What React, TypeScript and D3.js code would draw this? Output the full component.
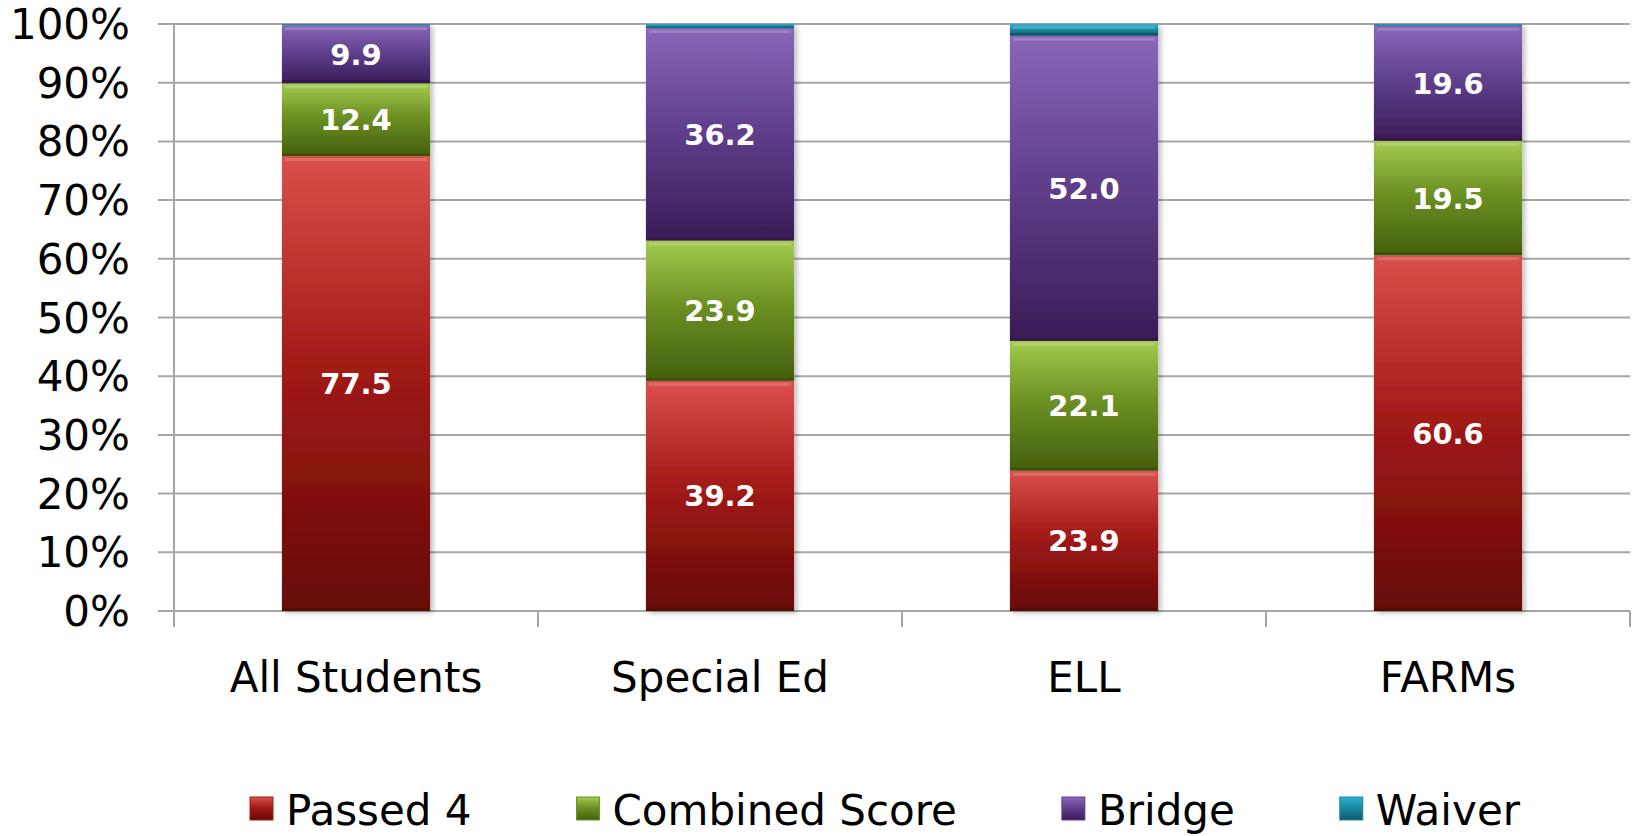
import { useMemo } from "react"
import * as d3 from "d3"

const categories = ["All Students", "Special Ed", "ELL", "FARMs"]
const seriesNames = ["Passed 4", "Combined Score", "Bridge", "Waiver"]
const passed4 = [77.5, 39.2, 23.9, 60.6]
const combinedScore = [12.4, 23.9, 22.1, 19.5]
const bridge = [9.9, 36.2, 52.0, 19.6]
const waiver = [0.2, 0.7, 2.0, 0.3]
const yTicks = [0, 10, 20, 30, 40, 50, 60, 70, 80, 90, 100]

// gradient stops per series: top, mid, bottom
const palette = [
  ["#d9504b", "#a31b18", "#660806"],
  ["#a3cb4e", "#6d9124", "#445f0c"],
  ["#8a66b8", "#62418f", "#3a1b57"],
  ["#2fb0cc", "#1a8aa4", "#0d5a6a"],
]

const W = 1632
const H = 836
const margin = { top: 24, right: 2, bottom: 225, left: 174 }
const FONT = "'DejaVu Sans', Verdana, sans-serif"

export default function App() {
  const rows = useMemo(
    () =>
      categories.map((c, i) => ({
        cat: c,
        "Passed 4": passed4[i],
        "Combined Score": combinedScore[i],
        Bridge: bridge[i],
        Waiver: waiver[i],
      })),
    [],
  )

  const stacked = useMemo(() => d3.stack<any>().keys(seriesNames)(rows), [rows])

  const x = d3
    .scaleBand()
    .domain(categories)
    .range([margin.left, W - margin.right])
    .paddingInner(0.593)
    .paddingOuter(0.593 / 2)
  const y = d3.scaleLinear().domain([0, 100]).range([H - margin.bottom, margin.top])
  const step = x.step()

  // legend layout from measured text widths
  const legendItems = useMemo(() => {
    const ctx = document.createElement("canvas").getContext("2d")!
    ctx.font = `42px ${FONT}`
    let cx = 250
    return seriesNames.map((name, i) => {
      const w = ctx.measureText(name).width
      const item = { name, i, x: cx }
      cx += 23 + 13 + w + 105
      return item
    })
  }, [])

  return (
    <div style={{ position: "fixed", left: 0, top: 0 }}>
      <svg width={W} height={H} style={{ display: "block", background: "#fff" }}>
        <defs>
          {palette.map((p, i) => (
            <linearGradient key={i} id={`g${i}`} x1="0" y1="0" x2="0" y2="1">
              <stop offset="0%" stopColor={p[0]} />
              <stop offset="45%" stopColor={p[1]} />
              <stop offset="100%" stopColor={p[2]} />
            </linearGradient>
          ))}
          <filter id="shadow" x="-10%" y="-5%" width="130%" height="115%">
            <feDropShadow dx="3" dy="2" stdDeviation="2.5" floodColor="#000" floodOpacity="0.25" />
          </filter>
        </defs>

        {/* grid lines */}
        {yTicks.map((t) => (
          <line
            key={t}
            x1={margin.left - 16}
            x2={W - margin.right}
            y1={y(t)}
            y2={y(t)}
            stroke="#a6a6a6"
            strokeWidth={2}
          />
        ))}
        {/* y axis */}
        <line x1={margin.left} x2={margin.left} y1={y(100)} y2={y(0) + 16} stroke="#a6a6a6" strokeWidth={2} />
        {/* category ticks */}
        {d3.range(categories.length + 1).map((i) => (
          <line
            key={i}
            x1={margin.left + i * step}
            x2={margin.left + i * step}
            y1={y(0)}
            y2={y(0) + 16}
            stroke="#a6a6a6"
            strokeWidth={2}
          />
        ))}

        {/* y labels */}
        {yTicks.map((t) => (
          <text
            key={t}
            x={130}
            y={y(t) + 15}
            textAnchor="end"
            fontFamily={FONT}
            fontSize={42}
            fill="#000"
          >
            {t}%
          </text>
        ))}

        {/* bars */}
        {categories.map((c, ci) => (
          <g key={c} filter="url(#shadow)">
            {stacked.map((s, si) => {
              const d = s[ci]
              const top = y(d[1])
              const h = y(d[0]) - y(d[1])
              return (
                <rect key={si} x={x(c)!} y={top} width={x.bandwidth()} height={h} fill={`url(#g${si})`} />
              )
            })}
          </g>
        ))}
        {/* bevel highlights */}
        {categories.map((c, ci) =>
          stacked.map((s, si) => {
            const d = s[ci]
            const h = y(d[0]) - y(d[1])
            if (h < 10) return null
            return (
              <g key={`${c}-${si}`}>
                <rect
                  x={x(c)! + 3}
                  y={y(d[1]) + 2}
                  width={x.bandwidth() - 6}
                  height={3}
                  fill="#fff"
                  opacity={0.18}
                />
                <rect
                  x={x(c)!}
                  y={y(d[0]) - 3}
                  width={x.bandwidth()}
                  height={3}
                  fill="#000"
                  opacity={0.15}
                />
              </g>
            )
          }),
        )}

        {/* value labels */}
        {categories.map((c, ci) =>
          stacked.slice(0, 3).map((s, si) => {
            const d = s[ci]
            return (
              <text
                key={`${c}-l${si}`}
                x={x(c)! + x.bandwidth() / 2}
                y={(y(d[0]) + y(d[1])) / 2 + 10.5}
                textAnchor="middle"
                fontFamily={FONT}
                fontWeight="bold"
                fontSize={29}
                fill="#fff"
              >
                {(d[1] - d[0]).toFixed(1)}
              </text>
            )
          }),
        )}

        {/* category labels */}
        {categories.map((c) => (
          <text
            key={c}
            x={x(c)! + x.bandwidth() / 2}
            y={692}
            textAnchor="middle"
            fontFamily={FONT}
            fontSize={42}
            fill="#000"
          >
            {c}
          </text>
        ))}

        {/* legend */}
        {legendItems.map((it) => (
          <g key={it.name}>
            <rect x={it.x} y={797} width={23} height={23} fill={`url(#g${it.i})`} stroke={palette[it.i][1]} strokeWidth={1} />
            <text x={it.x + 36} y={825} fontFamily={FONT} fontSize={42} fill="#000">
              {it.name}
            </text>
          </g>
        ))}
      </svg>
    </div>
  )
}
